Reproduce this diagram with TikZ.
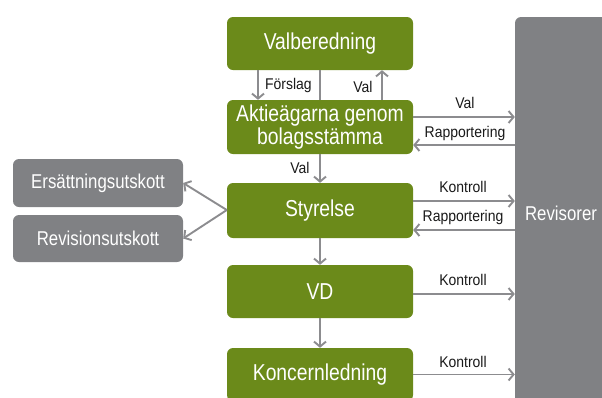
\documentclass[tikz,border=0pt]{standalone}
\usepackage{fontspec}
\setmainfont{Liberation Sans}[FakeStretch=0.9]
\newfontfamily\condfont{Liberation Sans}[FakeStretch=0.84]
\usetikzlibrary{arrows.meta, positioning, calc}
\definecolor{mOlive}{HTML}{6B8A1A}
\definecolor{mGrey}{HTML}{808184}
\definecolor{mArrow}{HTML}{8C8C8F}

\begin{document}
\begin{tikzpicture}[x=1pt, y=-1pt,
      gbox/.style={fill=mOlive, text=white, rounded corners=6pt, minimum width=186pt,
        align=center, font=\condfont\fontsize{23}{20}\selectfont},
      gybox/.style={fill=mGrey, text=white, rounded corners=6pt, minimum width=170pt,
        font=\condfont\fontsize{20}{20}\selectfont},
      lbl/.style={font=\fontsize{15.5}{16}\selectfont, text=black!90, inner sep=1pt},
      arr/.style={draw=mArrow, line width=1.9pt, -{Straight Barb[length=5pt, width=12pt]}}]
    \useasboundingbox (0,0) rectangle (602,397);
    % green chain
    \node[gbox, minimum height=53pt] (valb) at (320,43.5) {Valberedning};
    \node[gbox, minimum height=54pt] (aktie) at (320,127) {Aktieägarna genom\\bolagsstämma};
    \node[gbox, minimum height=55pt] (styr) at (320,210.5) {Styrelse};
    \node[gbox, minimum height=53pt] (vd) at (320,291.5) {VD};
    \node[gbox, minimum height=53pt] (koncern) at (320,374.5) {Koncernledning};
    % committees and auditors
    \node[gybox, minimum height=48pt] (ers) at (98,183) {Ersättningsutskott};
    \node[gybox, minimum height=47pt] (revu) at (98,238.5) {Revisionsutskott};
    \node[fill=mGrey, text=white, rounded corners=6pt, minimum width=92pt, minimum height=392pt,
      font=\condfont\fontsize{20}{20}\selectfont] (revi) at (561,213) {Revisorer};

    % vertical connectors
    \draw[arr] ([xshift=-62pt]valb.south) -- ([xshift=-62pt]aktie.north);
    \draw[mArrow, line width=1.9pt] (valb.south) -- (aktie.north);
    \draw[arr] ([xshift=62pt]aktie.north) -- ([xshift=62pt]valb.south);
    \node[lbl, anchor=west] (forslag) at (264,85) {Förslag};
    \node[lbl] (valupp) at (363,87) {Val};
    \draw[arr] (aktie) -- (styr);
    \node[lbl] (valstyr) at (300,168) {Val};
    \draw[arr] (styr) -- (vd);
    \draw[arr] (vd) -- (koncern);

    % to and from the auditors
    \draw[arr] ([yshift=10pt]aktie.east) -- ([yshift=10pt]aktie.east -| revi.west);
    \draw[arr] ([yshift=-18pt]aktie.east -| revi.west) -- ([yshift=-18pt]aktie.east);
    \node[lbl] (valrev) at (465,103) {Val};
    \node[lbl] (rapakt) at (465,133) {Rapportering};
    \draw[arr] ([yshift=9.5pt]styr.east) -- ([yshift=9.5pt]styr.east -| revi.west);
    \draw[arr] ([yshift=-19.5pt]styr.east -| revi.west) -- ([yshift=-19.5pt]styr.east);
    \node[lbl] (kontstyr) at (463,187) {Kontroll};
    \node[lbl] (rapstyr) at (463,217) {Rapportering};
    \draw[arr] ([yshift=-2.5pt]vd.east) -- ([yshift=-2.5pt]vd.east -| revi.west);
    \node[lbl] (kontvd) at (463,280) {Kontroll};
    \draw[arr] (koncern.east) -- (koncern.east -| revi.west);
    \node[lbl] (kontkonc) at (463,362) {Kontroll};

    % committees
    \coordinate (styrv) at ([yshift=0.5pt]styr.west);
    \draw[arr] (styrv) -- (ers.east);
    \draw[arr] (styrv) -- (revu.east);
  \end{tikzpicture}
\end{document}
